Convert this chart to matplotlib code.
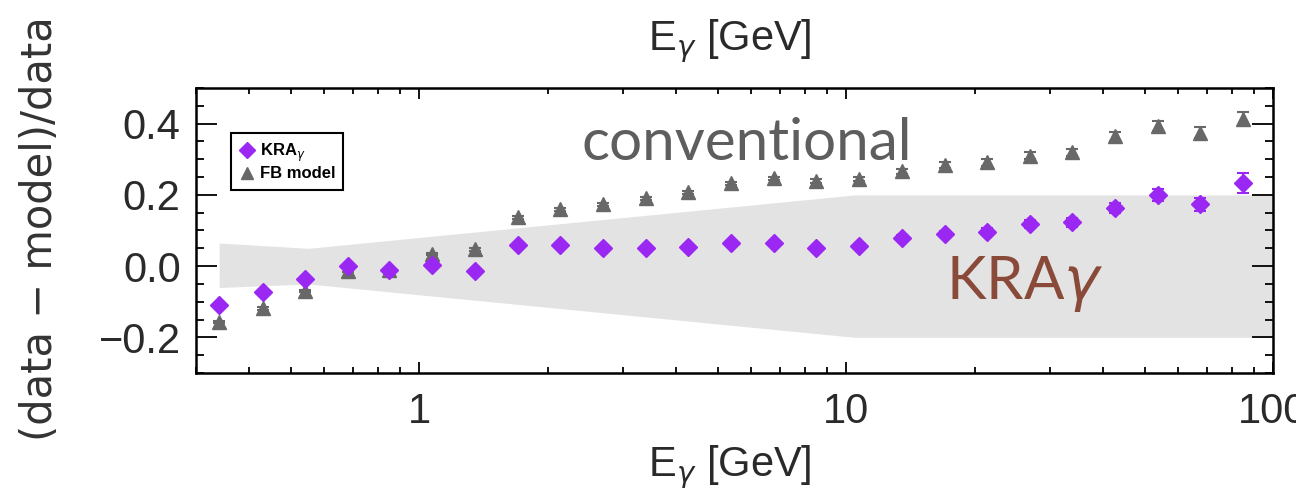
import numpy as np
import matplotlib
matplotlib.use("Agg")
import matplotlib.pyplot as plt
from matplotlib.lines import Line2D

# energies of the Fermi-LAT bins [GeV]
energy = [0.34, 0.43, 0.54, 0.68, 0.85, 1.07, 1.35, 1.70, 2.14, 2.69, 3.39, 4.27,
          5.37, 6.76, 8.51, 10.7, 13.5, 17.0, 21.4, 26.9, 33.9, 42.7, 53.7, 67.6, 85.1]

# (data - model)/data for KRA_gamma
kra_res = [-0.11, -0.073, -0.036, 0.0, -0.011, 0.003, -0.013, 0.059, 0.060, 0.050, 0.050, 0.055,
           0.064, 0.065, 0.050, 0.057, 0.080, 0.090, 0.097, 0.118, 0.123, 0.163, 0.200, 0.173, 0.232]
kra_err = [0.004, 0.004, 0.004, 0.004, 0.004, 0.004, 0.004, 0.004, 0.004, 0.004, 0.004, 0.005,
           0.005, 0.005, 0.006, 0.006, 0.007, 0.008, 0.009, 0.011, 0.012, 0.015, 0.017, 0.018, 0.028]

# (data - model)/data for the FB (conventional) model
fb_res = [-0.157, -0.118, -0.07, -0.013, -0.01, 0.034, 0.047, 0.137, 0.160, 0.174, 0.19, 0.207,
          0.232, 0.246, 0.238, 0.244, 0.266, 0.283, 0.291, 0.31, 0.319, 0.364, 0.392, 0.375, 0.414]
fb_err = [0.004, 0.004, 0.004, 0.004, 0.004, 0.004, 0.004, 0.004, 0.004, 0.004, 0.004, 0.005,
          0.005, 0.005, 0.006, 0.006, 0.008, 0.008, 0.009, 0.010, 0.011, 0.012, 0.014, 0.015, 0.018]

# systematic uncertainty band
band_e = [0.34, 0.55, 10.5, 100.0]
band_hi = [0.065, 0.05, 0.2, 0.2]
band_lo = [-0.06, -0.05, -0.2, -0.2]

KRA_COLOR = '#9b27f2'
FB_COLOR = '#686868'
TXT = '#2a2a2a'

plt.rcParams['font.family'] = ['Liberation Sans', 'DejaVu Sans']

fig = plt.figure(figsize=(12.96, 4.98), dpi=100)
ax = fig.add_axes([0.1512, 0.251, 0.8311, 0.5723])

ax.fill_between(band_e, band_lo, band_hi, color='#e3e3e3', lw=0, zorder=1)

ax.errorbar(energy, fb_res, yerr=fb_err, fmt='^', color=FB_COLOR, ms=10,
            capsize=4, elinewidth=1.5, capthick=1.5, zorder=3)
ax.errorbar(energy, kra_res, yerr=kra_err, fmt='D', color=KRA_COLOR, ms=9,
            capsize=4, elinewidth=1.5, capthick=1.5, zorder=4)

ax.set_xscale('log')
ax.set_xlim(0.3, 100)
ax.set_ylim(-0.3, 0.5)
ax.set_yticks([-0.2, 0.0, 0.2, 0.4])
ax.set_yticklabels(['\u22120.2', '0.0', '0.2', '0.4'])
ax.set_xticks([1, 10, 100])
ax.set_xticklabels(['1', '10', '100'])
ax.yaxis.set_minor_locator(matplotlib.ticker.MultipleLocator(0.05))

ax.tick_params(which='both', direction='in', top=True, right=True, width=1.3,
               labelsize=30, labelcolor=TXT)
ax.tick_params(axis='x', which='major', length=8, pad=14)
ax.tick_params(axis='x', which='minor', length=4)
ax.tick_params(axis='y', which='major', length=15, pad=11)
ax.tick_params(axis='y', which='minor', length=6)
for s in ax.spines.values():
    s.set_linewidth(1.8)

handles = [Line2D([], [], ls='none', marker='D', color=KRA_COLOR, ms=8),
           Line2D([], [], ls='none', marker='^', color=FB_COLOR, ms=9)]
leg = ax.legend(handles, [r'KRA$_\gamma$', 'FB model'], loc='upper left',
                bbox_to_anchor=(0.025, 0.87), numpoints=1, handlelength=0.9,
                handletextpad=0.3, borderpad=0.5, labelspacing=0.15,
                fancybox=False, framealpha=1, prop={'size': 12, 'weight': 'bold'})
leg.get_frame().set_edgecolor('black')
leg.get_frame().set_linewidth(1.5)

ax.text(2.4, 0.297, 'conventional', family='Lato', fontsize=42, color='#5e5e5e',
        ha='left', va='baseline')
ax.text(17.1, -0.092, r'KRA$\gamma$', family='Lato', fontsize=43, color='#8a4a3a',
        ha='left', va='baseline')

fig.text(0.031, 0.54, '(data \u2212 model)/data', rotation=90, fontsize=30,
         family='DejaVu Sans', color='#333333', ha='center', va='center')
fig.text(0.563, 0.062, r'E$_\gamma$ [GeV]', fontsize=30, color=TXT,
         ha='center', va='center')
# label and tick labels of the panel above, cropped at the top edge
fig.text(0.563, 0.918, r'E$_\gamma$ [GeV]', fontsize=30, color=TXT,
         ha='center', va='center')
for xf, t in [(0.322, '1'), (0.655, '10'), (0.985, '100')]:
    fig.text(xf, 1.022, t, fontsize=30, color=TXT, ha='center', va='center')

fig.savefig('out.png', dpi=100)
